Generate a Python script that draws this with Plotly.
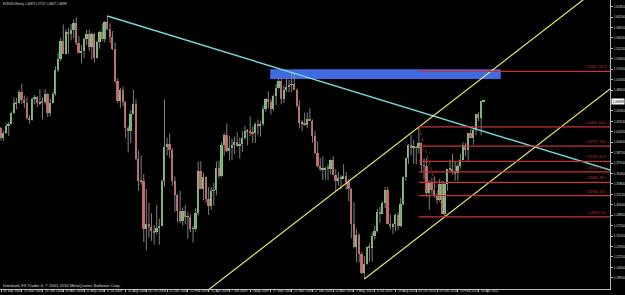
import plotly.graph_objects as go
import pandas as pd

# ---------------- data ----------------
first_week = "2007-09-30"
opens = [1.4265,1.4110,1.4180,1.4290,1.4330,1.4505,1.4660,1.4655,1.4830,1.4715,1.4660,1.4420,1.4400,1.4720,1.4755,1.4660,1.4680,1.4670,1.4810,1.4500,
         1.4660,1.4800,1.5190,1.5360,1.5650,1.5430,1.5790,1.5750,1.5810,1.5930,1.5610,1.5460,1.5480,1.5670,1.5760,1.5550,1.5760,1.5380,1.5620,1.5790,
         1.5680,1.5940,1.5830,1.5700,1.5510,1.5010,1.4690,1.4860,1.4670,1.4260,1.4220,1.4490,1.4650,1.3770,1.3430,1.3420,1.2660,1.2740,1.2700,1.2640,
         1.2620,1.2690,1.2720,1.3420,1.3970,1.4010,1.3920,1.3430,1.3200,1.2960,1.2800,1.2960,1.2860,1.2860,1.2670,1.2670,1.2920,1.3590,1.3300,1.3490,
         1.3150,1.3030,1.3270,1.3280,1.3630,1.3500,1.3990,1.4160,1.3900,1.3950,1.4000,1.4040,1.3980,1.4020,1.4110,1.4220,1.4210,1.4190,1.4180,1.4330,
         1.4300,1.4330,1.4570,1.4730,1.4680,1.4560,1.4770,1.4900,1.5010,1.4720,1.4870,1.4910,1.4950,1.4960,1.4870,1.4620,1.4340,1.4340,1.4320,1.4410,
         1.4380,1.4140,1.3870,1.3670,1.3610,1.3610,1.3640,1.3620,1.3760,1.3530,1.3420,1.3470,1.3470,1.3500,1.3410,1.3300,1.2750,1.2390,1.2570,1.2270,
         1.1970,1.2110,1.2390,1.2370,1.2560,1.2640,1.2940,1.2910,1.3080,1.3280,1.2750,1.2710,1.2740,1.2890,1.2720,1.3070,1.3490,1.3790,1.3990,1.3960,
         1.3960,1.3950,1.4030,1.3680,1.3670,1.3240,1.3410,1.3290,1.3190,1.3130,1.3380,1.2910,1.3380,1.3610,1.3610,1.3580,1.3550,1.3660,1.3760,1.3990,
         1.3910,1.4180,1.4100,1.4230,1.4480,1.4430,1.46879]
highs = [1.4283,1.4225,1.4345,1.4365,1.4530,1.4752,1.4745,1.4870,1.4966,1.4780,1.4760,1.4470,1.4740,1.4790,1.4770,1.4880,1.4750,1.4880,1.4820,1.4730,
         1.4840,1.5240,1.5460,1.5690,1.5905,1.5830,1.5850,1.5910,1.5980,1.6019,1.5720,1.5580,1.5690,1.5820,1.5820,1.5780,1.5770,1.5650,1.5800,1.5910,
         1.5960,1.6038,1.5920,1.5800,1.5620,1.5050,1.4900,1.4920,1.4690,1.4300,1.4550,1.4870,1.4720,1.3910,1.3830,1.3540,1.3300,1.3080,1.2920,1.2730,
         1.3050,1.2830,1.3450,1.4719,1.4110,1.4180,1.3950,1.3500,1.3220,1.3270,1.3010,1.3050,1.2930,1.2900,1.2720,1.3000,1.3740,1.3740,1.3560,1.3500,
         1.3330,1.3330,1.3400,1.3740,1.3750,1.4050,1.4190,1.4340,1.4140,1.4100,1.4130,1.4200,1.4110,1.4220,1.4300,1.4250,1.4450,1.4290,1.4350,1.4400,
         1.4380,1.4620,1.4740,1.4850,1.4720,1.4790,1.4960,1.5060,1.5060,1.4940,1.5060,1.5030,1.5144,1.5140,1.4890,1.4700,1.4390,1.4510,1.4510,1.4580,
         1.4400,1.4220,1.4050,1.3790,1.3820,1.3650,1.3690,1.3770,1.3820,1.3620,1.3570,1.3520,1.3690,1.3570,1.3460,1.3320,1.3090,1.2670,1.2600,1.2310,
         1.2240,1.2390,1.2440,1.2610,1.2720,1.2990,1.3020,1.3100,1.3330,1.3330,1.2900,1.2760,1.2910,1.2930,1.3160,1.3500,1.3790,1.4010,1.4160,1.4080,
         1.3980,1.4282,1.4040,1.3790,1.3790,1.3440,1.3480,1.3500,1.3240,1.3460,1.3430,1.3410,1.3620,1.3760,1.3860,1.3740,1.3710,1.3860,1.4040,1.4030,
         1.4180,1.4250,1.4250,1.4490,1.4520,1.4690,1.47137]
lows = [1.4065,1.4060,1.4170,1.4140,1.4320,1.4490,1.4560,1.4650,1.4650,1.4580,1.4400,1.4330,1.4380,1.4640,1.4600,1.4630,1.4400,1.4640,1.4440,1.4450,
        1.4650,1.4780,1.5150,1.5320,1.5440,1.5430,1.5440,1.5650,1.5690,1.5580,1.5450,1.5285,1.5370,1.5580,1.5480,1.5350,1.5300,1.5370,1.5520,1.5640,
        1.5620,1.5810,1.5610,1.5500,1.4980,1.4660,1.4580,1.4610,1.4110,1.3880,1.4030,1.4480,1.3760,1.3270,1.3370,1.2460,1.2330,1.2530,1.2480,1.2420,
        1.2580,1.2420,1.2720,1.3340,1.3830,1.3790,1.3350,1.2940,1.2770,1.2760,1.2720,1.2740,1.2510,1.2620,1.2456,1.2630,1.2880,1.3310,1.3120,1.3080,
        1.2890,1.2970,1.3040,1.3200,1.3470,1.3490,1.3830,1.3880,1.3750,1.3760,1.3850,1.3970,1.3780,1.3890,1.4080,1.3990,1.4140,1.4030,1.4030,1.4150,
        1.4130,1.4300,1.4520,1.4580,1.4480,1.4540,1.4630,1.4890,1.4640,1.4660,1.4840,1.4830,1.4830,1.4890,1.4590,1.4260,1.4220,1.4300,1.4260,1.4380,
        1.4030,1.3860,1.3640,1.3580,1.3440,1.3450,1.3440,1.3530,1.3520,1.3270,1.3350,1.3290,1.3470,1.3290,1.3110,1.2520,1.2360,1.2140,1.2140,1.1950,
        1.1876,1.2100,1.2150,1.2150,1.2500,1.2610,1.2760,1.2900,1.3000,1.2740,1.2660,1.2590,1.2630,1.2650,1.2700,1.3040,1.3430,1.3700,1.3830,1.3700,
        1.3690,1.3860,1.3570,1.3450,1.3180,1.2970,1.3220,1.3160,1.3070,1.3100,1.2900,1.2861,1.3270,1.3580,1.3530,1.3430,1.3430,1.3620,1.3760,1.3820,
        1.3750,1.4100,1.4000,1.4150,1.4370,1.4150,1.46827]
closes = [1.4110,1.4180,1.4290,1.4330,1.4505,1.4660,1.4655,1.4830,1.4715,1.4660,1.4420,1.4400,1.4720,1.4755,1.4660,1.4680,1.4670,1.4810,1.4500,1.4660,
          1.4800,1.5190,1.5360,1.5650,1.5430,1.5790,1.5750,1.5810,1.5930,1.5610,1.5460,1.5480,1.5670,1.5760,1.5550,1.5760,1.5380,1.5620,1.5790,1.5680,
          1.5940,1.5830,1.5700,1.5510,1.5010,1.4690,1.4860,1.4670,1.4260,1.4220,1.4490,1.4650,1.3770,1.3430,1.3420,1.2660,1.2740,1.2700,1.2640,1.2620,
          1.2690,1.2720,1.3420,1.3970,1.4010,1.3920,1.3430,1.3200,1.2960,1.2800,1.2960,1.2860,1.2860,1.2670,1.2670,1.2920,1.3590,1.3300,1.3490,1.3150,
          1.3030,1.3270,1.3280,1.3630,1.3500,1.3990,1.4160,1.3900,1.3950,1.4000,1.4040,1.3980,1.4020,1.4110,1.4220,1.4210,1.4190,1.4180,1.4330,1.4300,
          1.4330,1.4570,1.4730,1.4680,1.4560,1.4770,1.4900,1.5010,1.4720,1.4870,1.4910,1.4950,1.4960,1.4870,1.4620,1.4340,1.4340,1.4320,1.4410,1.4380,
          1.4140,1.3870,1.3670,1.3610,1.3610,1.3640,1.3620,1.3760,1.3530,1.3420,1.3470,1.3470,1.3500,1.3410,1.3300,1.2750,1.2390,1.2570,1.2270,1.1970,
          1.2110,1.2390,1.2370,1.2560,1.2640,1.2940,1.2910,1.3080,1.3280,1.2750,1.2710,1.2740,1.2890,1.2720,1.3070,1.3490,1.3790,1.3990,1.3960,1.3960,
          1.3950,1.4030,1.3680,1.3670,1.3240,1.3410,1.3290,1.3190,1.3130,1.3380,1.2910,1.3380,1.3610,1.3610,1.3580,1.3550,1.3660,1.3760,1.3990,1.3910,
          1.4180,1.4100,1.4230,1.4480,1.4430,1.4688,1.46898]

date_labels = ["30 Sep 2007","25 Nov 2007","20 Jan 2008","16 Mar 2008","11 May 2008","6 Jul 2008","31 Aug 2008","26 Oct 2008",
               "21 Dec 2008","15 Feb 2009","12 Apr 2009","7 Jun 2009","2 Aug 2009","27 Sep 2009","22 Nov 2009","17 Jan 2010",
               "14 Mar 2010","9 May 2010","4 Jul 2010","29 Aug 2010","24 Oct 2010","19 Dec 2010","13 Feb 2011","10 Apr 2011"]
price_ticks = [1.61850,1.60200,1.58550,1.56900,1.55250,1.53600,1.51950,1.50300,1.48650,1.45350,1.43700,1.42050,1.40400,
               1.38750,1.37100,1.35450,1.33800,1.32150,1.30500,1.28850,1.27200,1.25550,1.23900,1.22250,1.20600,1.18950]

title_text = "EURUSD,Weekly  1.46879 1.47137 1.46827 1.46898"
copyright_text = "Interbank FX Trader 4, \u00a9 2001-2010 MetaQuotes Software Corp."
current_price = 1.46898

# trend line: 2008 high -> 2009 high (ray)
trend_pts = [("2008-07-13", 1.6038), ("2009-11-22", 1.5144)]
# channel base through 2010 low and 2011 low, parallel through Nov 2010 high
chan_low1 = ("2010-06-06", 1.1876)
chan_low2 = ("2011-01-09", 1.2861)
chan_high = ("2010-10-31", 1.4282)
# fibonacci retracement from Nov 2010 high to Jan 2011 low
fib_p1 = ("2010-10-31", 1.4282)
fib_p2 = ("2011-01-09", 1.2861)
fib_levels = [0.0, 23.6, 38.2, 50.0, 61.8, 78.6, 100.0, 161.8]
# zone rectangle
zone_x = ("2009-09-25", "2011-06-09")
zone_y = (1.5041, 1.5194)

# ---------------- geometry / styling ----------------
W, H = 625, 295
PL, PR, PT, PB = 0, 612, 0, 289          # plot area in px
bar_px = 2.604
t0 = pd.Timestamp(first_week)
wk = pd.Timedelta(days=7)
x_start = t0 - wk * (1 / bar_px)
x_end = t0 + wk * ((PR - 1) / bar_px)
y_top = 1.6185 + 6.7 / 632
y_bot = 1.6185 - (PB - 6.7) / 632

dates = pd.date_range(first_week, periods=len(opens), freq="7D")

BULL = "#7acb7a"
BEAR = "#d65c5c"
WICK = "#8c8c8c"
AX = "#b8b8b8"
TXT = "#dcdcdc"
FIB = "#c43434"
FONT = "Liberation Sans"

fig = go.Figure()

# zone rectangle (background)
fig.add_shape(type="rect", xref="x", yref="y", x0=zone_x[0], x1=zone_x[1], y0=zone_y[0], y1=zone_y[1],
              fillcolor="#4169e1", line_width=0, layer="below")

# wicks
wx, wy = [], []
for d, h, l in zip(dates, highs, lows):
    wx += [d, d, None]
    wy += [l, h, None]
fig.add_trace(go.Scatter(x=wx, y=wy, mode="lines", line=dict(color=WICK, width=0.9), hoverinfo="skip", showlegend=False))

# bodies
base = [min(o, c) for o, c in zip(opens, closes)]
hgt = [max(abs(c - o), 0.0008) for o, c in zip(opens, closes)]
cols = [BULL if c >= o else BEAR for o, c in zip(opens, closes)]
fig.add_trace(go.Bar(x=dates, y=hgt, base=base, marker=dict(color=cols, line_width=0),
                     width=0.68 * 7 * 86400000, showlegend=False, hoverinfo="skip"))

def ts(s):
    return pd.Timestamp(s)

def extend(p1, p2, x_to):
    a, b = ts(p1[0]), ts(p2[0])
    slope = (p2[1] - p1[1]) / ((b - a) / wk)
    return p1[1] + slope * ((x_to - a) / wk)

# cyan trend line (ray from first point)
fig.add_trace(go.Scatter(x=[ts(trend_pts[0][0]), x_end + wk * 5],
                         y=[trend_pts[0][1], extend(trend_pts[0], trend_pts[1], x_end + wk * 5)],
                         mode="lines", line=dict(color="#74d8d8", width=1.4), hoverinfo="skip", showlegend=False))

# yellow channel
x_far = x_end + wk * 20
fig.add_trace(go.Scatter(x=[ts(chan_low1[0]), x_far],
                         y=[chan_low1[1], extend(chan_low1, chan_low2, x_far)],
                         mode="lines", line=dict(color="#e6e66a", width=1.2), hoverinfo="skip", showlegend=False))
off = chan_high[1] - extend(chan_low1, chan_low2, ts(chan_high[0]))
x_back = x_start
fig.add_trace(go.Scatter(x=[x_back, x_far],
                         y=[extend(chan_low1, chan_low2, x_back) + off, extend(chan_low1, chan_low2, x_far) + off],
                         mode="lines", line=dict(color="#e6e66a", width=1.2), hoverinfo="skip", showlegend=False))

# fibonacci
rng = fib_p1[1] - fib_p2[1]
for lv in fib_levels:
    p = fib_p2[1] + rng * lv / 100.0
    fig.add_trace(go.Scatter(x=[ts(fib_p1[0]), x_end + wk * 5], y=[p, p], mode="lines",
                             line=dict(color=FIB, width=1.2), hoverinfo="skip", showlegend=False))
    fig.add_annotation(x=0.996, xref="paper", y=p, yref="y", text=f"{p:.5f}  {lv:.1f}", showarrow=False,
                       xanchor="right", yanchor="bottom", font=dict(size=3.2, color=FIB, family=FONT))
fig.add_trace(go.Scatter(x=[ts(fib_p1[0]), ts(fib_p2[0])], y=[fib_p1[1], fib_p2[1]], mode="lines",
                         line=dict(color=FIB, width=0.8, dash="dot"), hoverinfo="skip", showlegend=False))

# date labels (left aligned like MT4)
tick_dates = [ts(first_week) + wk * 8 * i for i in range(len(date_labels))]
for d, lab in zip(tick_dates, date_labels):
    fig.add_annotation(x=d, xref="x", y=-0.0075, yref="paper", text=lab, showarrow=False, xanchor="left",
                       yanchor="middle", xshift=0, font=dict(size=3.3, color=TXT, family=FONT))

# title and copyright
fig.add_annotation(x=1.5 / PR, xref="paper", y=1 - 4 / PB, yref="paper", text=title_text, showarrow=False,
                   xanchor="left", yanchor="middle", font=dict(size=2.7, color=TXT, family=FONT))
fig.add_annotation(x=1.5 / PR, xref="paper", y=1 - 285.5 / PB, yref="paper", text=copyright_text, showarrow=False,
                   xanchor="left", yanchor="middle", font=dict(size=4.1, color=TXT, family=FONT))

# current price box
fig.add_annotation(x=1.0, xref="paper", y=current_price, yref="y", text=f"{current_price:.5f}", showarrow=False,
                   xanchor="left", yanchor="middle", xshift=1, bgcolor="#ffffff", borderpad=0.5,
                   font=dict(size=3.1, color="#000000", family=FONT))

fig.update_layout(
    width=W, height=H, margin=dict(l=PL, r=W - PR, t=PT, b=H - PB, pad=0),
    paper_bgcolor="#000000", plot_bgcolor="#000000", bargap=0, showlegend=False,
    xaxis=dict(type="date", range=[x_start, x_end], showgrid=False, zeroline=False,
               showline=True, linecolor=AX, linewidth=1, tickvals=tick_dates, ticks="outside",
               ticklen=2, tickcolor=AX, showticklabels=False, fixedrange=True),
    yaxis=dict(range=[y_bot, y_top], side="right", showgrid=False, zeroline=False, showline=True,
               linecolor=AX, linewidth=1, tickvals=price_ticks, ticktext=[f"{v:.5f}" for v in price_ticks],
               ticks="outside", ticklen=2, tickcolor=AX, tickfont=dict(size=3.2, color=TXT, family=FONT),
               fixedrange=True),
)

fig.write_html("out.html")
